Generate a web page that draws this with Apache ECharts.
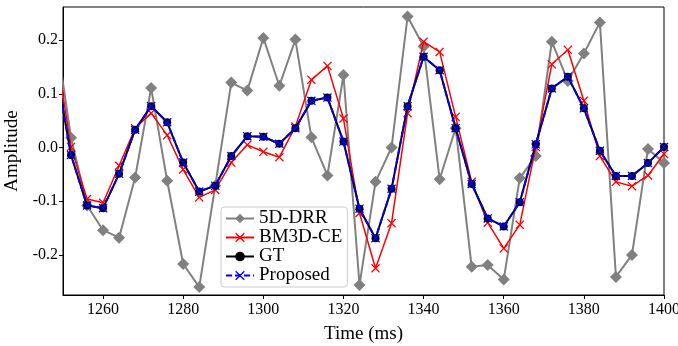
<!DOCTYPE html>
<html>
<head>
<meta charset="utf-8">
<script src="https://cdn.jsdelivr.net/npm/echarts@6/dist/echarts.min.js"></script>
<style>
  html, body { margin: 0; padding: 0; background: #fff; }
  #chart { width: 678px; height: 346px; }
</style>
</head>
<body>
<div id="chart"></div>
<script>
// sample times (ms), one every 4 ms; 1248 sits just left of the axis and is clipped
const times = [1248, 1252, 1256, 1260, 1264, 1268, 1272, 1276, 1280, 1284, 1288, 1292, 1296,
  1300, 1304, 1308, 1312, 1316, 1320, 1324, 1328, 1332, 1336, 1340, 1344, 1348, 1352,
  1356, 1360, 1364, 1368, 1372, 1376, 1380, 1384, 1388, 1392, 1396, 1400]

const drr = [0.222, 0.018, -0.108, -0.154, -0.168, -0.056, 0.111, -0.062, -0.217, -0.260,
  -0.071, 0.121, 0.106, 0.204, 0.115, 0.201, 0.019, -0.052, 0.135, -0.256, -0.064, 0.000,
  0.244, 0.188, -0.059, 0.036, -0.222, -0.219, -0.246, -0.057, -0.016, 0.197, 0.124,
  0.175, 0.233, -0.241, -0.200, -0.003, -0.029]

const bm3d = [0.191, 0.001, -0.096, -0.103, -0.034, 0.036, 0.064, 0.023, -0.041, -0.093,
  -0.079, -0.028, 0.005, -0.008, -0.018, 0.039, 0.126, 0.152, 0.054, -0.122, -0.225,
  -0.141, 0.064, 0.197, 0.178, 0.057, -0.064, -0.140, -0.188, -0.144, 0.001, 0.155,
  0.182, 0.087, -0.016, -0.064, -0.072, -0.052, -0.012]

const gt = [0.158, -0.014, -0.108, -0.113, -0.049, 0.033, 0.077, 0.047, -0.028, -0.082,
  -0.071, -0.016, 0.021, 0.020, 0.007, 0.036, 0.087, 0.093, 0.011, -0.114, -0.169,
  -0.077, 0.077, 0.169, 0.144, 0.036, -0.068, -0.132, -0.147, -0.102, 0.006, 0.110,
  0.132, 0.073, -0.006, -0.053, -0.053, -0.029, 0.001]

const proposed = [0.158, -0.014, -0.108, -0.113, -0.049, 0.033, 0.077, 0.047, -0.028, -0.082,
  -0.071, -0.016, 0.021, 0.020, 0.007, 0.036, 0.087, 0.093, 0.011, -0.114, -0.169,
  -0.077, 0.077, 0.169, 0.144, 0.036, -0.068, -0.132, -0.147, -0.102, 0.006, 0.110,
  0.132, 0.073, -0.006, -0.053, -0.053, -0.029, 0.001]

const xTicks = [1260, 1280, 1300, 1320, 1340, 1360, 1380, 1400]
const yTicks = [-0.2, -0.1, 0.0, 0.1, 0.2]

const font = 'Liberation Serif'
const cross = 'path://M1,0 L5,4 L9,0 L10,1 L6,5 L10,9 L9,10 L5,6 L1,10 L0,9 L4,5 L0,1 Z'
const diamond = 'path://M5,0 L10,5 L5,10 L0,5 Z'
const pairs = (ys) => times.map((t, i) => [t, ys[i]])

const chart = echarts.init(document.getElementById('chart'), null, { renderer: 'canvas' })

const option = {
  animation: false,
  textStyle: { fontFamily: font, color: '#000' },
  grid: {
    left: 63, right: 14, top: 7, bottom: 51,
    outerBoundsMode: 'none',
    containLabel: false,
    show: true, borderColor: '#000', borderWidth: 1, backgroundColor: 'transparent'
  },
  legend: {
    orient: 'vertical',
    left: 221, top: 207,
    padding: [2, 5, 2, 4],
    itemGap: 0,
    itemWidth: 28, itemHeight: 12,
    backgroundColor: '#fff',
    borderColor: '#cccccc', borderWidth: 1, borderRadius: 3,
    textStyle: { fontFamily: font, fontSize: 19, color: '#000', lineHeight: 18 },
    data: ['5D-DRR', 'BM3D-CE', 'GT', 'Proposed']
  },
  xAxis: {
    type: 'value',
    min: 1250, max: 1400,
    name: 'Time (ms)',
    nameLocation: 'middle',
    nameGap: 30,
    nameTextStyle: { fontFamily: font, fontSize: 19, color: '#000' },
    splitLine: { show: false },
    axisLine: { show: true, onZero: false, lineStyle: { color: '#000', width: 1 } },
    axisTick: { show: true, inside: false, length: 4, customValues: xTicks, lineStyle: { color: '#000' } },
    axisLabel: {
      customValues: xTicks, margin: 7, fontFamily: font, fontSize: 16, color: '#000',
      formatter: (v) => String(v)
    }
  },
  yAxis: {
    type: 'value',
    min: -0.2747, max: 0.2617,
    name: 'Amplitude',
    nameLocation: 'middle',
    nameGap: 34,
    nameRotate: 90,
    nameTextStyle: { fontFamily: font, fontSize: 19, color: '#000' },
    splitLine: { show: false },
    axisLine: { show: true, onZero: false, lineStyle: { color: '#000', width: 1 } },
    axisTick: { show: true, inside: false, length: 4, customValues: yTicks, lineStyle: { color: '#000' } },
    axisLabel: {
      customValues: yTicks, margin: 5, fontFamily: font, fontSize: 16, color: '#000',
      formatter: (v) => v.toFixed(1)
    }
  },
  series: [
    {
      name: '5D-DRR',
      type: 'line',
      data: pairs(drr),
      symbol: diamond,
      symbolSize: 12,
      itemStyle: { color: '#808080' },
      lineStyle: { color: '#808080', width: 2 },
      z: 2
    },
    {
      name: 'BM3D-CE',
      type: 'line',
      data: pairs(bm3d),
      symbol: cross,
      symbolSize: 9,
      itemStyle: { color: '#ff0000' },
      lineStyle: { color: '#ff0000', width: 1.5 },
      z: 3
    },
    {
      name: 'GT',
      type: 'line',
      data: pairs(gt),
      symbol: 'circle',
      symbolSize: 8,
      itemStyle: { color: '#000' },
      lineStyle: { color: '#000', width: 2 },
      z: 4
    },
    {
      name: 'Proposed',
      type: 'line',
      data: pairs(proposed),
      symbol: cross,
      symbolSize: 9,
      itemStyle: { color: '#0000ff' },
      lineStyle: { color: '#0000ff', width: 2, type: [6, 3] },
      z: 5
    }
  ]
}

chart.setOption(option)
</script>
</body>
</html>
